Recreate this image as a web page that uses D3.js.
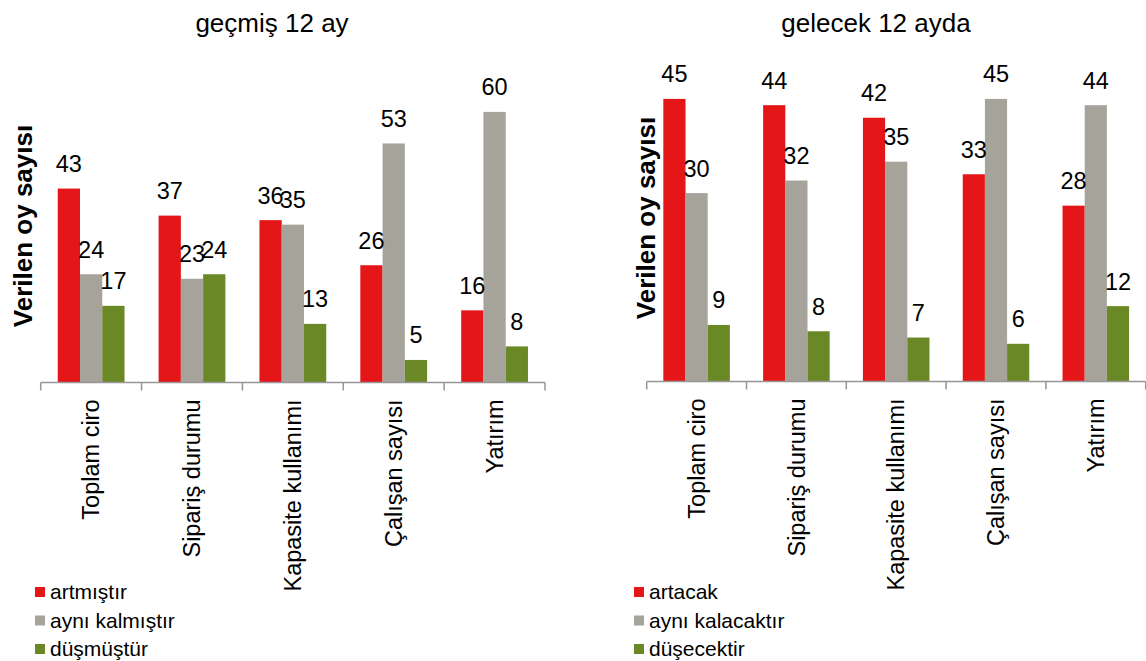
<!DOCTYPE html>
<html>
<head>
<meta charset="utf-8">
<script src="https://cdn.jsdelivr.net/npm/d3@7"></script>
<style>
  body { margin: 0; background: #fff; }
  svg { display: block; font-family: 'Liberation Sans', Arial, sans-serif; }
</style>
</head>
<body>
<svg id="chart" width="1146" height="661"></svg>
<script>
// Categories shared by both panels
const categories = ['Toplam ciro', 'Sipariş durumu', 'Kapasite kullanımı', 'Çalışan sayısı', 'Yatırım'];

// geçmiş 12 ay
const pastSeries = ['artmıştır', 'aynı kalmıştır', 'düşmüştür'];
const pastUp = [43, 37, 36, 26, 16];
const pastSame = [24, 23, 35, 53, 60];
const pastDown = [17, 24, 13, 5, 8];

// gelecek 12 ayda
const futureSeries = ['artacak', 'aynı kalacaktır', 'düşecektir'];
const futureUp = [45, 44, 42, 33, 28];
const futureSame = [30, 32, 35, 45, 44];
const futureDown = [9, 8, 7, 6, 12];

const colors = ['#e51618', '#a6a39b', '#6a8826'];

const svg = d3.select('#chart');

// Panel layouts (pixel geometry only)
const panels = [
  {
    title: 'geçmiş 12 ay', titleX: 272,
    series: pastSeries, values: [pastUp, pastSame, pastDown],
    x0: 40.7, x1: 545, base: 382.5, max: 60, pxPerUnit: 4.51, pad: 0.765,
    yTitleX: 32, yTitleY: 226, legendX: 35
  },
  {
    title: 'gelecek 12 ayda', titleX: 876,
    series: futureSeries, values: [futureUp, futureSame, futureDown],
    x0: 646.7, x1: 1145.7, base: 381.5, max: 45, pxPerUnit: 6.28, pad: 0.75,
    yTitleX: 655, yTitleY: 218, legendX: 634
  }
];

panels.forEach(function(p) {
  const g = svg.append('g');

  const x = d3.scaleBand().domain(categories).range([p.x0, p.x1]).paddingInner(0).paddingOuter(0);
  const xs = d3.scaleBand().domain(d3.range(p.series.length)).range([0, x.bandwidth()]).paddingInner(0).paddingOuter(p.pad);
  const y = d3.scaleLinear().domain([0, p.max]).range([p.base, p.base - p.max * p.pxPerUnit]);

  // Title
  g.append('text')
    .attr('x', p.titleX).attr('y', 32)
    .attr('text-anchor', 'middle')
    .style('font-size', '26px')
    .text(p.title);

  // Y axis title
  g.append('text')
    .attr('transform', `translate(${p.yTitleX},${p.yTitleY}) rotate(-90)`)
    .attr('text-anchor', 'middle')
    .style('font-size', '26px')
    .style('font-weight', 'bold')
    .text('Verilen oy sayısı');

  // Bars
  const groups = g.selectAll('.grp')
    .data(categories)
    .join('g')
    .attr('class', 'grp')
    .attr('transform', d => `translate(${x(d)},0)`);

  groups.each(function(cat, ci) {
    const grp = d3.select(this);
    const rows = p.values.map((arr, si) => ({ si: si, v: arr[ci] }));

    grp.selectAll('rect')
      .data(rows)
      .join('rect')
      .attr('x', d => xs(d.si))
      .attr('width', xs.bandwidth())
      .attr('y', d => y(d.v))
      .attr('height', d => y(0) - y(d.v))
      .attr('fill', d => colors[d.si]);

    grp.selectAll('text.val')
      .data(rows)
      .join('text')
      .attr('class', 'val')
      .attr('x', d => xs(d.si) + xs.bandwidth() / 2)
      .attr('y', d => y(d.v) - 16.5)
      .attr('text-anchor', 'middle')
      .style('font-size', '23.5px')
      .text(d => d.v);
  });

  // X axis line and boundary ticks
  const axis = g.append('g').attr('class', 'axis x');
  axis.append('line')
    .attr('x1', p.x0).attr('x2', p.x1)
    .attr('y1', y(0)).attr('y2', y(0))
    .attr('stroke', '#969696').attr('stroke-width', 1.5);

  const bounds = categories.map(c => x(c)).concat([x.range()[1]]);
  axis.selectAll('line.tick')
    .data(bounds)
    .join('line')
    .attr('class', 'tick')
    .attr('x1', d => d).attr('x2', d => d)
    .attr('y1', y(0)).attr('y2', y(0) + 8)
    .attr('stroke', '#969696').attr('stroke-width', 1.5);

  // Category labels (rotated)
  axis.selectAll('text')
    .data(categories)
    .join('text')
    .attr('transform', d => `translate(${x(d) + x.bandwidth() / 2},${y(0) + 17}) rotate(-90)`)
    .attr('text-anchor', 'end')
    .attr('dy', '0.35em')
    .style('font-size', '23.5px')
    .text(d => d);

  // Legend
  const legend = g.append('g').attr('class', 'legend');
  const items = legend.selectAll('g')
    .data(p.series)
    .join('g')
    .attr('transform', (d, i) => `translate(${p.legendX},${592 + i * 28.5})`);
  items.append('rect')
    .attr('x', 0).attr('y', -5)
    .attr('width', 10).attr('height', 10)
    .attr('fill', (d, i) => colors[i]);
  items.append('text')
    .attr('x', 15).attr('dy', '0.35em')
    .style('font-size', '21px')
    .text(d => d);
});
</script>
</body>
</html>
